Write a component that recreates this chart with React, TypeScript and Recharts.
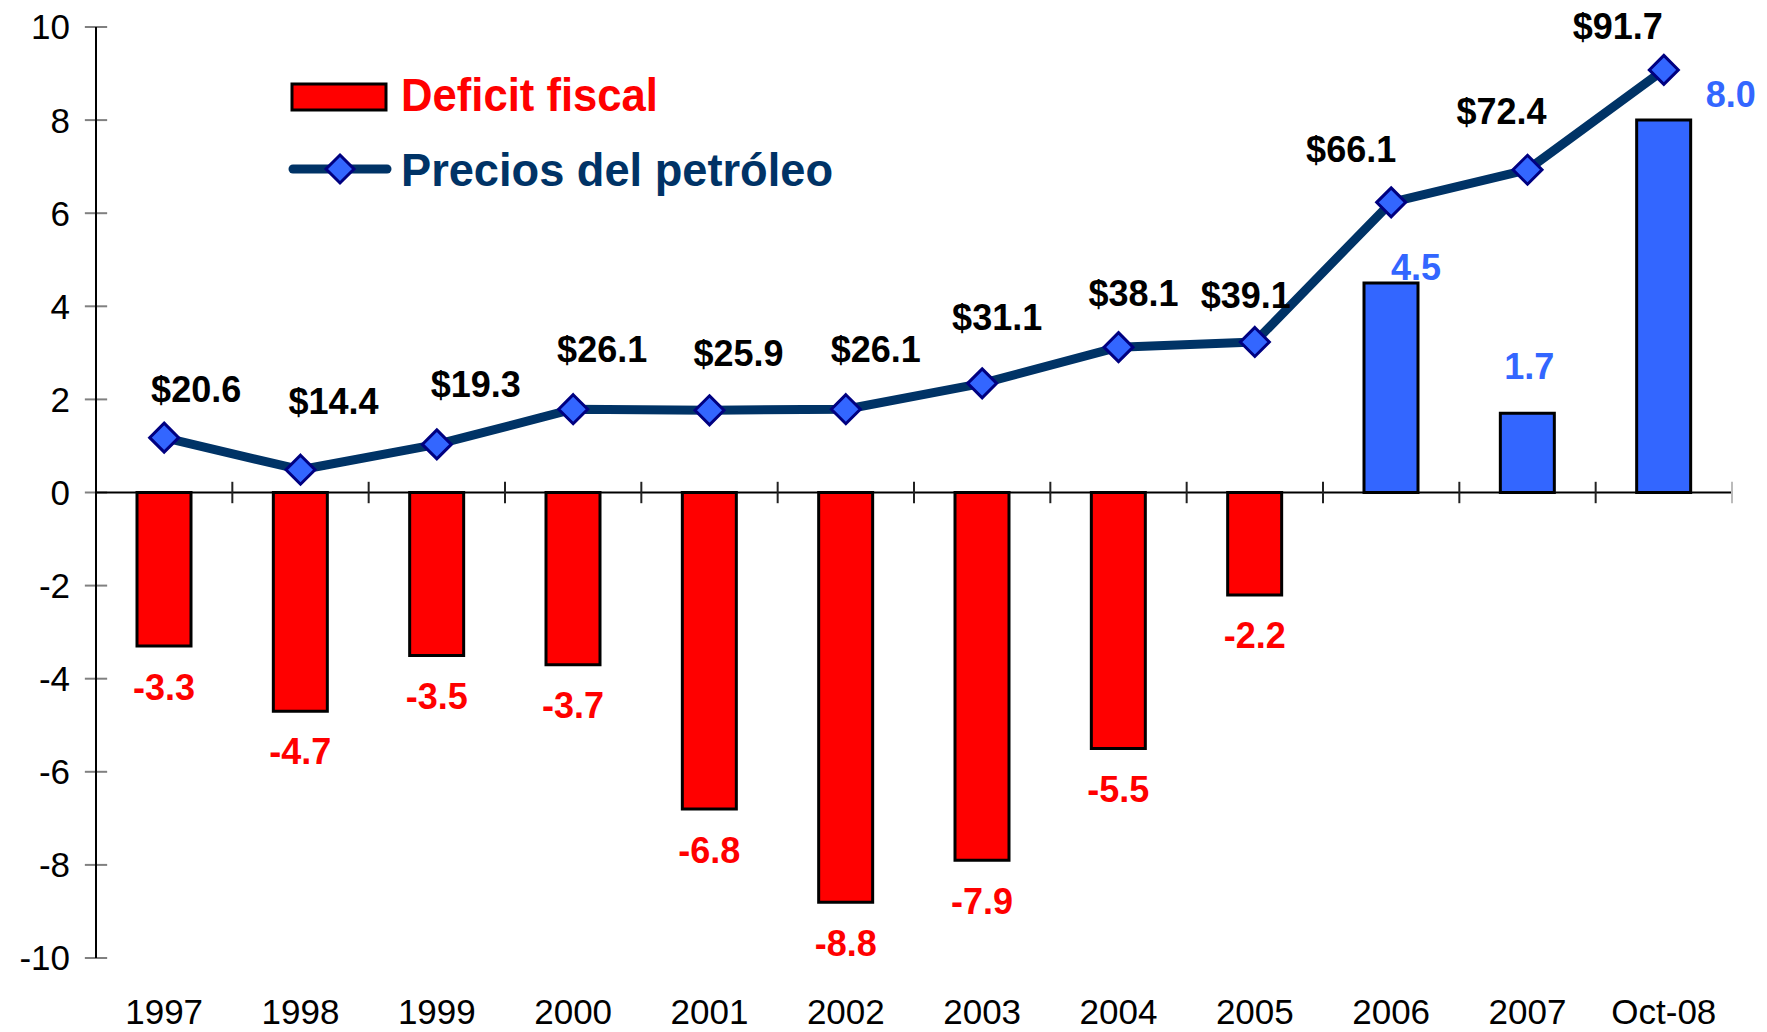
import {
  ComposedChart,
  Bar,
  Line,
  Cell,
  XAxis,
  YAxis,
  Legend,
  LabelList,
  ReferenceLine,
} from "recharts";

const YEARS = ["1997", "1998", "1999", "2000", "2001", "2002", "2003", "2004", "2005", "2006", "2007", "Oct-08"];
const DEFICIT = [-3.3, -4.7, -3.5, -3.7, -6.8, -8.8, -7.9, -5.5, -2.2, 4.5, 1.7, 8.0];
const OIL_PRICE = [20.6, 14.4, 19.3, 26.1, 25.9, 26.1, 31.1, 38.1, 39.1, 66.1, 72.4, 91.7];
const Y_TICKS = [-10, -8, -6, -4, -2, 0, 2, 4, 6, 8, 10];

// label placement (px offsets, as in the original hand-placed labels)
const PRICE_NUDGE = [
  [32, -48], [33, -68], [39, -60], [29, -60], [29, -57], [30, -60],
  [15, -66], [15, -54], [-9, -46], [-40, -53], [-26, -58], [-46, -43],
];
const BAR_NUDGE = [
  [0, 41], [0, 40], [0, 41], [0, 41], [0, 41], [0, 41],
  [0, 41], [0, 41], [0, 41], [25, -16], [2, -47], [67, -26],
];

const FONT = '"Liberation Sans", Arial, Helvetica, sans-serif';
const RED = "#FF0000";
const BLUE = "#3366FF";
const NAVY = "#003366";

const chartData = YEARS.map((year, i) => ({
  year,
  deficit: DEFICIT[i],
  price: OIL_PRICE[i],
}));

function Diamond({ cx, cy, r = 14.5 }: { cx: number; cy: number; r?: number }) {
  return (
    <path
      d={`M${cx},${cy - r} L${cx + r},${cy} L${cx},${cy + r} L${cx - r},${cy} Z`}
      fill={BLUE}
      stroke="#000080"
      strokeWidth={3}
    />
  );
}

function PriceLabel(props: any) {
  const { x, y, value } = props;
  const i = props.index ?? OIL_PRICE.indexOf(Number(value));
  const [dx, dy] = PRICE_NUDGE[i] || [0, -50];
  return (
    <text
      x={x + dx}
      y={y + dy}
      textAnchor="middle"
      dominantBaseline="central"
      fontFamily={FONT}
      fontWeight="bold"
      fontSize={36}
      fill="#000"
    >
      {`$${Number(value).toFixed(1)}`}
    </text>
  );
}

function BarLabel(props: any) {
  const { x, y, width, height, value } = props;
  const v = Number(value);
  const i = props.index ?? DEFICIT.indexOf(v);
  const [dx, dy] = BAR_NUDGE[i] || [0, 0];
  const end = v < 0 ? Math.max(y, y + height) : Math.min(y, y + height);
  return (
    <text
      x={x + width / 2 + dx}
      y={end + dy}
      textAnchor="middle"
      dominantBaseline="central"
      fontFamily={FONT}
      fontWeight="bold"
      fontSize={36}
      fill={v < 0 ? RED : BLUE}
    >
      {v.toFixed(1)}
    </text>
  );
}

function LegendBox() {
  return (
    <svg width={560} height={140} style={{ display: "block", overflow: "visible" }}>
      <rect x={12} y={24} width={94} height={26} fill={RED} stroke="#000" strokeWidth={3} />
      <text
        x={121}
        y={51}
        fontFamily={FONT}
        fontWeight="bold"
        fontSize={47}
        fill={RED}
        textLength={257}
        lengthAdjust="spacingAndGlyphs"
      >
        Deficit fiscal
      </text>
      <line x1={13} y1={109} x2={107} y2={109} stroke={NAVY} strokeWidth={9} strokeLinecap="round" />
      <Diamond cx={60} cy={109} r={14} />
      <text
        x={121}
        y={126}
        fontFamily={FONT}
        fontWeight="bold"
        fontSize={47}
        fill={NAVY}
        textLength={432}
        lengthAdjust="spacingAndGlyphs"
      >
        Precios del petróleo
      </text>
    </svg>
  );
}

export default function App() {
  return (
    <div style={{ position: "absolute", left: 0, top: 0, width: 1767, height: 1032, background: "#fff" }}>
      <ComposedChart
        width={1767}
        height={1032}
        data={chartData}
        margin={{ top: 27, right: 35, left: 0, bottom: 0 }}
        barCategoryGap={0}
      >
        <XAxis
          xAxisId="cat"
          dataKey="year"
          axisLine={false}
          tickLine={false}
          tickSize={0}
          tickMargin={41}
          height={74}
          interval={0}
          tick={{ fontSize: 35, fontFamily: FONT, fill: "#000" }}
        />
        <XAxis xAxisId="num" type="number" domain={[0, 12]} allowDataOverflow hide />
        <YAxis
          yAxisId="left"
          domain={[-10, 10]}
          ticks={Y_TICKS}
          allowDataOverflow
          width={96}
          axisLine={{ stroke: "#000", strokeWidth: 2 }}
          tickLine={false}
          tickSize={11}
          tickMargin={15}
          tick={{ fontSize: 35, fontFamily: FONT, fill: "#000" }}
        />
        <YAxis yAxisId="right" orientation="right" domain={[-80, 100]} allowDataOverflow hide />
        <Legend
          layout="vertical"
          align="center"
          verticalAlign="middle"
          wrapperStyle={{ left: 280, top: 60, width: 560, height: 140 }}
          content={() => <LegendBox />}
        />

        {Y_TICKS.map((t) => (
          <ReferenceLine
            key={`yt-${t}`}
            xAxisId="num"
            yAxisId="left"
            ifOverflow="visible"
            segment={[{ x: -0.075, y: t }, { x: 0.075, y: t }]}
            stroke="#808080"
            strokeWidth={2}
          />
        ))}
        <ReferenceLine xAxisId="cat" yAxisId="left" y={0} stroke="#000" strokeWidth={2} />
        {YEARS.map((yr, k) => (
          <ReferenceLine
            key={`xt-${k}`}
            xAxisId="cat"
            yAxisId="left"
            position="end"
            ifOverflow="visible"
            segment={[{ x: yr, y: -0.23 }, { x: yr, y: 0.23 }]}
            stroke={k === YEARS.length - 1 ? "#bbb" : "#222"}
            strokeWidth={2}
          />
        ))}

        <Bar
          xAxisId="cat"
          yAxisId="left"
          dataKey="deficit"
          barSize={54}
          stroke="#000"
          strokeWidth={3}
          isAnimationActive={false}
        >
          {chartData.map((d, i) => (
            <Cell key={`c-${i}`} fill={d.deficit < 0 ? RED : BLUE} />
          ))}
          <LabelList dataKey="deficit" content={BarLabel} />
        </Bar>
        <Line
          xAxisId="cat"
          yAxisId="right"
          dataKey="price"
          type="linear"
          stroke={NAVY}
          strokeWidth={9}
          strokeLinejoin="round"
          dot={(p: any) => <Diamond key={`d-${p.index}`} cx={p.cx} cy={p.cy} />}
          activeDot={false}
          isAnimationActive={false}
        >
          <LabelList dataKey="price" content={PriceLabel} />
        </Line>
      </ComposedChart>
    </div>
  );
}
